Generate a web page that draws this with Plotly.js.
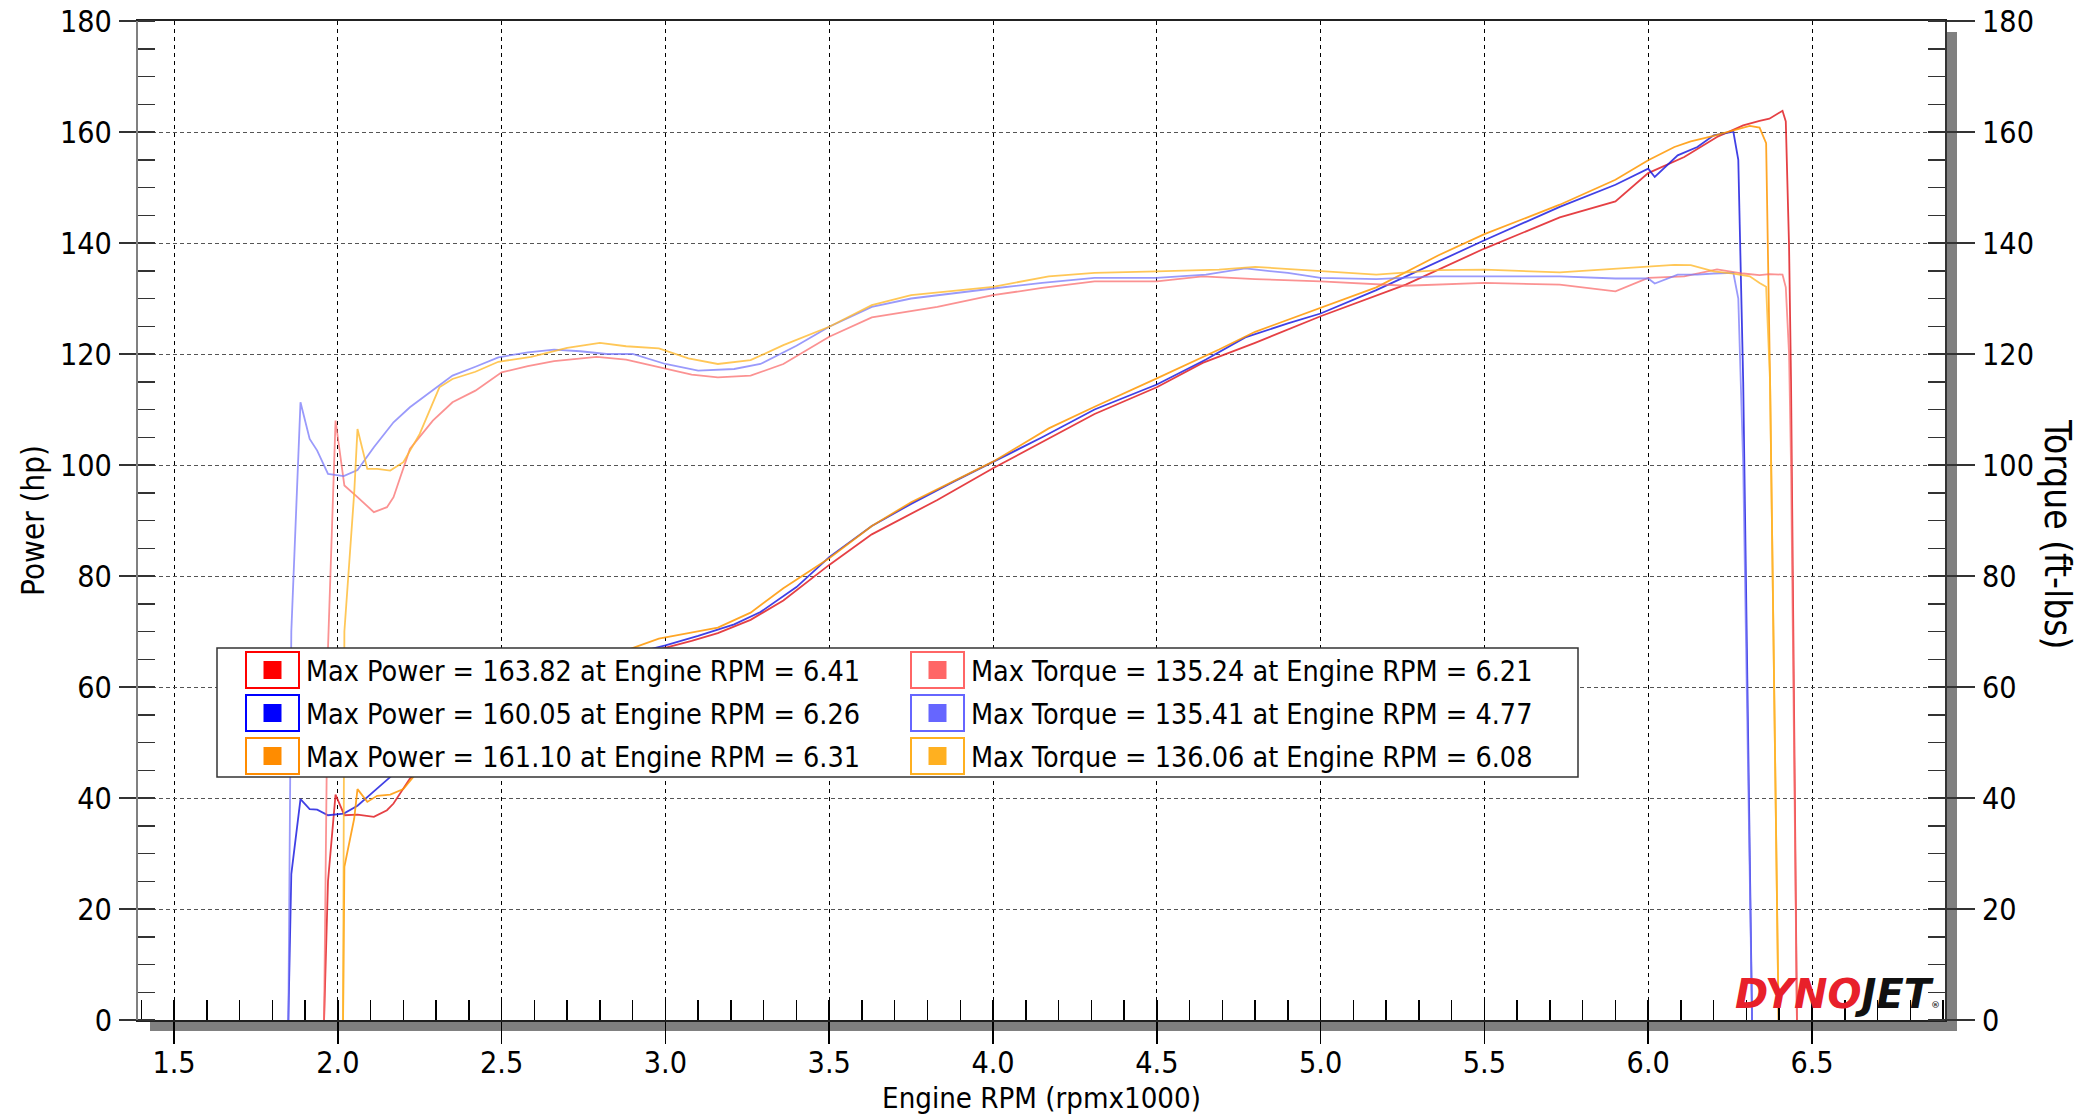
<!DOCTYPE html>
<html>
<head>
<meta charset="utf-8">
<script src="https://cdn.plot.ly/plotly-3.0.1.min.js"></script>
<style>
  html, body { margin: 0; padding: 0; background: #ffffff; }
  #chart { width: 2084px; height: 1117px; }
</style>
</head>
<body>
<div id="chart"></div>
<script>
// ---------------- DATA ----------------
// Run 1 (red)
const rpmRed = [1.958, 1.970, 1.993, 2.020, 2.060, 2.110, 2.150, 2.170, 2.220, 2.290, 2.350, 2.420, 2.500, 2.580, 2.660, 2.790, 2.880, 3.000, 3.080, 3.160, 3.260, 3.360, 3.500, 3.630, 3.830, 4.000, 4.150, 4.310, 4.500, 4.640, 4.800, 5.000, 5.260, 5.500, 5.730, 5.900, 6.000, 6.110, 6.210, 6.290, 6.340, 6.370, 6.410, 6.420, 6.430, 6.436, 6.454];
const hpRed  = [0, 25.0, 40.6, 36.9, 37.0, 36.6, 37.8, 39.0, 43.5, 47.1, 49.8, 52.3, 55.5, 57.9, 60.1, 63.4, 65.2, 67.0, 68.3, 69.7, 72.1, 75.6, 82.0, 87.5, 93.7, 99.4, 104.2, 109.2, 114.0, 118.4, 122.0, 126.8, 132.5, 139.0, 144.6, 147.5, 152.6, 155.5, 159.1, 161.2, 162.0, 162.4, 163.82, 161.9, 139.3, 115.0, 0];
const tqRed  = [0, 67.0, 108.0, 96.3, 94.2, 91.5, 92.4, 94.2, 102.9, 108.0, 111.3, 113.4, 116.7, 117.8, 118.7, 119.5, 119.0, 117.3, 116.3, 115.8, 116.1, 118.2, 123.1, 126.6, 128.5, 130.6, 131.9, 133.1, 133.1, 134.0, 133.5, 133.1, 132.3, 132.8, 132.5, 131.3, 133.7, 134.0, 135.24, 134.5, 134.2, 134.4, 134.3, 132.0, 120.0, 100.0, 0];

// Run 2 (blue)
const rpmBlue = [1.849, 1.858, 1.886, 1.914, 1.937, 1.970, 2.018, 2.060, 2.110, 2.170, 2.220, 2.290, 2.350, 2.420, 2.490, 2.580, 2.660, 2.740, 2.820, 2.900, 3.000, 3.100, 3.210, 3.290, 3.400, 3.500, 3.630, 3.750, 3.880, 4.000, 4.150, 4.310, 4.500, 4.650, 4.770, 4.900, 5.000, 5.170, 5.350, 5.500, 5.730, 5.900, 6.000, 6.020, 6.090, 6.150, 6.200, 6.260, 6.275, 6.290, 6.317];
const hpBlue  = [0, 26.3, 39.8, 38.0, 37.9, 36.9, 37.2, 38.6, 41.2, 44.3, 46.5, 49.5, 52.5, 54.5, 56.5, 59.0, 61.2, 63.2, 64.5, 66.0, 67.5, 69.2, 71.3, 73.5, 78.0, 83.4, 89.0, 93.0, 97.0, 100.5, 105.0, 110.0, 114.5, 119.0, 123.0, 125.5, 127.3, 131.5, 136.4, 140.5, 146.5, 150.5, 153.4, 151.9, 155.8, 157.3, 159.4, 160.05, 155.0, 115.0, 0];
const tqBlue  = [0, 70.0, 111.3, 104.7, 102.6, 98.4, 98.0, 99.1, 103.2, 107.7, 110.4, 113.4, 116.1, 117.7, 119.4, 120.3, 120.8, 120.5, 120.0, 120.0, 118.2, 117.0, 117.3, 118.2, 121.5, 124.9, 128.5, 130.0, 131.0, 131.8, 132.8, 133.7, 133.7, 134.3, 135.41, 134.6, 133.7, 133.5, 134.0, 134.0, 134.0, 133.6, 133.6, 132.7, 134.3, 134.3, 134.5, 134.6, 130.0, 100.0, 0];

// Run 3 (orange)
const rpmOrg = [2.016, 2.020, 2.050, 2.060, 2.090, 2.120, 2.160, 2.200, 2.250, 2.310, 2.350, 2.420, 2.490, 2.590, 2.700, 2.800, 2.880, 2.980, 3.070, 3.160, 3.260, 3.360, 3.500, 3.630, 3.750, 4.000, 4.170, 4.310, 4.500, 4.690, 4.800, 5.000, 5.170, 5.360, 5.500, 5.730, 5.900, 6.000, 6.080, 6.130, 6.200, 6.260, 6.310, 6.340, 6.360, 6.372, 6.398];
const hpOrg  = [0, 27.6, 36.3, 41.6, 39.3, 40.4, 40.6, 41.6, 45.2, 50.2, 51.7, 53.8, 56.2, 58.8, 62.3, 65.0, 66.6, 68.7, 69.7, 70.7, 73.4, 77.8, 83.2, 89.0, 93.3, 100.6, 106.6, 110.5, 115.6, 120.8, 124.0, 128.4, 132.0, 137.8, 141.6, 146.9, 151.4, 154.9, 157.3, 158.3, 159.3, 160.3, 161.10, 160.8, 158.0, 115.0, 0];
const tqOrg  = [0, 70.0, 95.0, 106.5, 99.3, 99.3, 99.0, 100.5, 105.6, 114.0, 115.5, 116.8, 118.6, 119.5, 121.1, 122.0, 121.4, 121.0, 119.2, 118.2, 118.9, 121.6, 124.9, 128.8, 130.6, 132.1, 134.0, 134.6, 134.9, 135.2, 135.7, 134.9, 134.3, 135.1, 135.2, 134.7, 135.3, 135.7, 136.06, 136.0, 134.9, 134.5, 134.0, 132.8, 132.1, 115.0, 0];

// Legend summary values
const maxPower     = [163.82, 160.05, 161.10];
const maxPowerRpm  = [6.41, 6.26, 6.31];
const maxTorque    = [135.24, 135.41, 136.06];
const maxTorqueRpm = [6.21, 4.77, 6.08];

// Axis text
const xTitle = 'Engine RPM (rpmx1000)';
const yTitleLeft = 'Power (hp)';
const yTitleRight = 'Torque (ft-lbs)';

// ---------------- FONT PICK ----------------
function hasFont(name) {
  const c = document.createElement('canvas').getContext('2d');
  const s = 'Max Power = 163.82 WWii';
  c.font = '40px monospace';
  const w0 = c.measureText(s).width;
  c.font = '40px "' + name + '", monospace';
  return Math.abs(c.measureText(s).width - w0) > 0.5;
}
const COND = hasFont('DejaVu Sans Condensed');
const FONT = COND ? '"DejaVu Sans Condensed", "DejaVu Sans", sans-serif' : '"DejaVu Sans", sans-serif';
const K = COND ? 1.1 : 1.0;   // size factor so text widths match the reference

// ---------------- STYLE ----------------
const powerColors  = ['rgba(225,30,35,0.85)', 'rgba(30,30,225,0.85)', 'rgba(255,150,0,0.85)'];
const torqueColors = ['rgba(250,110,110,0.75)', 'rgba(120,120,250,0.75)', 'rgba(255,185,45,0.8)'];
const boxPowerColors  = ['#ff0000', '#0000ff', '#ff8c00'];
const boxTorqueColors = ['#ff6666', '#6666ff', '#ffb020'];

const runs = [
  {rpm: rpmRed,  hp: hpRed,  tq: tqRed},
  {rpm: rpmBlue, hp: hpBlue, tq: tqBlue},
  {rpm: rpmOrg,  hp: hpOrg,  tq: tqOrg}
];

const traces = [];
runs.forEach((r, i) => {
  traces.push({x: r.rpm, y: r.tq, type: 'scatter', mode: 'lines', yaxis: 'y2',
    line: {color: torqueColors[i], width: 1.8}, showlegend: false, hoverinfo: 'skip'});
});
runs.forEach((r, i) => {
  traces.push({x: r.rpm, y: r.hp, type: 'scatter', mode: 'lines', yaxis: 'y',
    line: {color: powerColors[i], width: 1.8}, showlegend: false, hoverinfo: 'skip'});
});

// ---------------- LAYOUT GEOMETRY (pixels -> paper) ----------------
const L = 138, R = 1945, T = 21, B = 1020;
const px = X => (X - L) / (R - L);
const py = Y => (B - Y) / (B - T);

const shapes = [];
const annotations = [];

// grey drop shadow of the plot frame
shapes.push({type: 'rect', xref: 'paper', yref: 'paper', layer: 'below',
  x0: px(150), x1: px(1957), y0: py(1020), y1: py(1031), fillcolor: '#808080', line: {width: 0}});
shapes.push({type: 'rect', xref: 'paper', yref: 'paper', layer: 'below',
  x0: px(1945), x1: px(1957), y0: py(32), y1: py(1031), fillcolor: '#808080', line: {width: 0}});

// legend frame
shapes.push({type: 'rect', xref: 'paper', yref: 'paper', layer: 'above',
  x0: px(217), x1: px(1578), y0: py(777), y1: py(648), fillcolor: '#ffffff', line: {color: '#333333', width: 1.5}});

const rowTop = 652, rowPitch = 43, boxH = 36;
const cols = [
  {boxX: 246, textX: 304, colors: boxPowerColors,
   text: i => 'Max Power = ' + maxPower[i].toFixed(2) + ' at Engine RPM = ' + maxPowerRpm[i].toFixed(2)},
  {boxX: 911, textX: 969, colors: boxTorqueColors,
   text: i => 'Max Torque = ' + maxTorque[i].toFixed(2) + ' at Engine RPM = ' + maxTorqueRpm[i].toFixed(2)}
];
cols.forEach(c => {
  for (let i = 0; i < 3; i++) {
    const top = rowTop + i * rowPitch, cy = top + boxH / 2, cx = c.boxX + 26.5;
    shapes.push({type: 'rect', xref: 'paper', yref: 'paper', layer: 'above',
      x0: px(c.boxX), x1: px(c.boxX + 53), y0: py(top + boxH), y1: py(top),
      fillcolor: '#ffffff', line: {color: c.colors[i], width: 2}});
    shapes.push({type: 'rect', xref: 'paper', yref: 'paper', layer: 'above',
      x0: px(cx - 9), x1: px(cx + 9), y0: py(cy + 9), y1: py(cy - 9),
      fillcolor: c.colors[i], line: {width: 0}});
    annotations.push({xref: 'paper', yref: 'paper', x: px(c.textX), y: py(cy + 1),
      xanchor: 'left', yanchor: 'middle', showarrow: false, text: c.text(i),
      font: {family: FONT, size: 25.9 * K, color: '#000000'}});
  }
});

// right axis title (reads top to bottom)
annotations.push({xref: 'paper', yref: 'paper', x: px(2058), y: py(534), xanchor: 'center', yanchor: 'middle',
  showarrow: false, textangle: 90, text: yTitleRight, font: {family: FONT, size: 33.5 * K, color: '#000000'}});

// DYNOJET logo text
annotations.push({xref: 'paper', yref: 'paper', x: px(1942), y: py(1019), xanchor: 'right', yanchor: 'bottom',
  showarrow: false,
  text: '<b><i><span style="color:#e8202a">DYNO</span><span style="color:#111111">JET</span></i></b><span style="font-size:9px;color:#333">®</span>',
  font: {family: '"DejaVu Sans", sans-serif', size: 40, weight: 'bold', style: 'italic'}});

const tickFont = {family: FONT, size: 27.5 * K, color: '#000000'};
const common = {
  range: [0, 180], dtick: 20, tick0: 0,
  ticks: 'outside', ticklen: 17, tickwidth: 1.5, tickcolor: '#333333',
  tickfont: tickFont,
  zeroline: false, fixedrange: true,
  minor: {dtick: 5, tick0: 0, ticks: 'inside', ticklen: 17, tickwidth: 1.5, tickcolor: '#333333', showgrid: false}
};

const layout = {
  width: 2084, height: 1117,
  margin: {l: L, r: 2084 - R, t: T, b: 1117 - B, pad: 0},
  paper_bgcolor: '#ffffff', plot_bgcolor: '#ffffff',
  showlegend: false,
  font: {family: FONT, color: '#000000'},
  xaxis: {
    range: [1.39, 6.906], dtick: 0.5, tick0: 1.5, tickformat: '.1f',
    ticks: 'outside', ticklen: 22, tickwidth: 1.5, tickcolor: '#000000',
    tickfont: tickFont, ticklabelstandoff: -7,
    showgrid: true, gridcolor: '#000000', gridwidth: 1, griddash: '4px,4px',
    showline: true, linecolor: '#222222', linewidth: 2, mirror: true,
    zeroline: false, fixedrange: true,
    minor: {dtick: 0.1, tick0: 1.5, ticks: 'inside', ticklen: 20, tickwidth: 1.5, tickcolor: '#000000', showgrid: false},
    title: {text: xTitle, font: {family: FONT, size: 26.5 * K, color: '#000000'}, standoff: 8}
  },
  yaxis: Object.assign({}, common, {
    side: 'left',
    showgrid: true, gridcolor: '#555555', gridwidth: 1, griddash: '4px,3px',
    showline: true, linecolor: '#808080', linewidth: 2,
    ticklabelstandoff: 1,
    title: {text: yTitleLeft, font: {family: FONT, size: 28.3 * K, color: '#000000'}, standoff: 6}
  }),
  yaxis2: Object.assign({}, common, {
    overlaying: 'y', side: 'right', anchor: 'x',
    showgrid: false, showline: true, linecolor: '#333333', linewidth: 2,
    ticklen: 28, ticklabelstandoff: 1
  }),
  shapes: shapes,
  annotations: annotations
};

Plotly.newPlot('chart', traces, layout, {displayModeBar: false, staticPlot: true});
</script>
</body>
</html>
